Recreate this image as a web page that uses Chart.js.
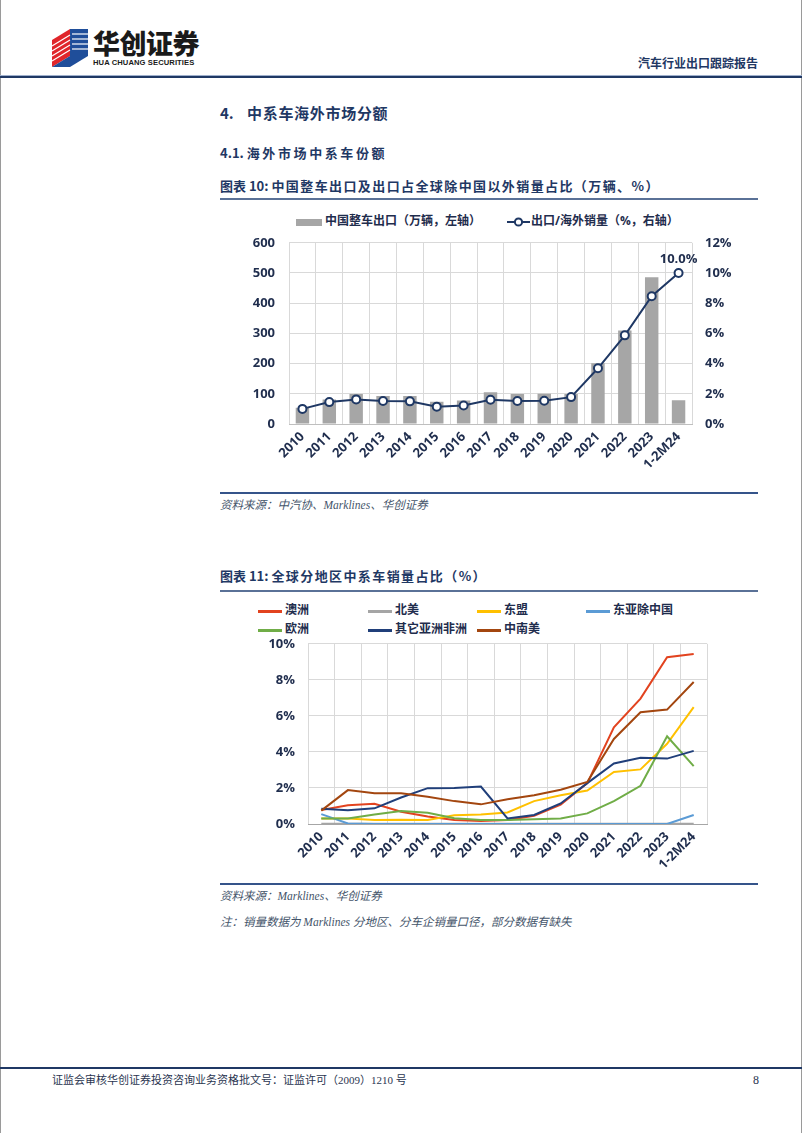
<!DOCTYPE html>
<html><head><meta charset="utf-8">
<script src="https://cdn.jsdelivr.net/npm/chart.js@4.4.1/dist/chart.umd.min.js"></script>
<style>
html,body{margin:0;padding:0;background:#fff;}
body{width:802px;height:1133px;position:relative;overflow:hidden;font-family:"Noto Sans CJK SC",sans-serif;}
.abs{position:absolute;white-space:nowrap;line-height:1;}
.navy{color:#1F3864;}
.hl{position:absolute;left:220px;width:538px;}
.src{position:absolute;left:220px;font-size:11.5px;font-style:italic;color:#44546A;white-space:nowrap;line-height:1;font-family:"Liberation Serif","Noto Sans CJK SC",serif;}
.lg{position:absolute;font-size:12px;font-weight:700;color:#1F2D4D;white-space:nowrap;line-height:1;font-family:"Open Sans","Noto Sans CJK SC",sans-serif;}
.lgline{position:absolute;width:24px;height:2.5px;}
</style></head><body>
<div class="abs" style="left:0;top:0;width:800px;height:1133px;border-left:1px solid #9a9a9a;border-right:1px solid #9a9a9a;"></div>
<!-- header -->
<svg class="abs" style="left:50px;top:26px" width="42" height="44" viewBox="0 0 42 44">
  <polygon points="2,14 20,3 20,30 2,41" fill="#E0262B"/>
  <polygon points="20,3 38,3 38,30 20,30" fill="#1F4E9A"/>
  <polygon points="2,41 20,30 38,30 20,41" fill="#1F4E9A"/>
  <g stroke="#fff" stroke-width="1.2">
    <line x1="2" y1="20" x2="20" y2="9"/><line x1="2" y1="25" x2="20" y2="14"/><line x1="2" y1="30" x2="20" y2="19"/><line x1="2" y1="35" x2="20" y2="24"/>
    <line x1="22" y1="8" x2="38" y2="8"/><line x1="22" y1="13" x2="38" y2="13"/><line x1="22" y1="18" x2="38" y2="18"/><line x1="22" y1="23" x2="38" y2="23"/>
  </g>
</svg>
<div class="abs" style="left:93px;top:29px;font-size:27px;font-weight:900;color:#1a1a1a;letter-spacing:-0.5px;">华创证券</div>
<div class="abs" style="left:93px;top:59px;font-size:7.6px;font-weight:700;color:#1a1a1a;font-family:'Liberation Sans',sans-serif;letter-spacing:0.1px;">HUA CHUANG SECURITIES</div>
<div class="abs navy" style="left:638px;top:57px;font-size:12px;font-weight:700;">汽车行业出口跟踪报告</div>
<div class="abs" style="left:0;top:75px;width:802px;height:1px;background:#9fb0cc;"></div>
<div class="abs" style="left:0;top:76px;width:802px;height:2px;background:#1F3864;"></div>

<!-- headings -->
<div class="abs navy" style="left:220px;top:105px;font-size:15px;font-weight:700;">4.<span style="position:absolute;left:27px;letter-spacing:0.7px;">中系车海外市场分额</span></div>
<div class="abs navy" style="left:220px;top:146px;font-size:13px;font-weight:700;">4.1. <span style="letter-spacing:2.6px;">海外市场中系车份额</span></div>
<div class="abs navy" style="left:220px;top:179px;font-size:13px;font-weight:700;">图表 10:&nbsp;<span style="letter-spacing:1.4px;">中国整车出口及出口占全球除中国以外销量占比（万辆、%）</span></div>
<div class="hl" style="top:198px;height:1.5px;background:#5a7197;"></div>

<!-- chart 1 legend -->
<div class="abs" style="left:296px;top:219px;width:26px;height:7px;background:#A6A6A6;"></div>
<div class="lg" style="left:325px;top:215px;">中国整车出口（万辆，左轴）</div>
<svg class="abs" style="left:507px;top:216px" width="23" height="12"><line x1="0" y1="6" x2="23" y2="6" stroke="#1F3864" stroke-width="2"/><circle cx="11.5" cy="6" r="3.6" fill="#fff" stroke="#1F3864" stroke-width="2"/></svg>
<div class="lg" style="left:531px;top:215px;">出口/海外销量（%，右轴）</div>

<div class="abs" style="left:220px;top:221px;width:540px;height:269px;"><canvas id="c1" width="540" height="269"></canvas></div>
<div class="hl" style="top:492px;height:2px;background:#35548a;"></div>
<div class="src" style="top:500px;">资料来源：中汽协、Marklines、华创证券</div>

<!-- chart 2 -->
<div class="abs navy" style="left:220px;top:569px;font-size:13px;font-weight:700;">图表 11:&nbsp;<span style="letter-spacing:1.4px;">全球分地区中系车销量占比（%）</span></div>
<div class="hl" style="top:590px;height:1.5px;background:#5a7197;"></div>

<div id="lg2"></div>

<div class="abs" style="left:220px;top:623px;width:540px;height:259px;"><canvas id="c2" width="540" height="259"></canvas></div>
<div class="hl" style="top:883px;height:2px;background:#35548a;"></div>
<div class="src" style="top:891px;">资料来源：Marklines、华创证券</div>
<div class="src" style="top:917px;">注：销量数据为 Marklines 分地区、分车企销量口径，部分数据有缺失</div>

<!-- footer -->
<div class="abs" style="left:0;top:1067px;width:802px;height:2px;background:#1F3864;"></div>
<div class="abs" style="left:52px;top:1075px;font-size:11px;color:#2a3550;font-family:'Liberation Serif','Noto Sans CJK SC',serif;">证监会审核华创证券投资咨询业务资格批文号：证监许可（2009）1210 号</div>
<div class="abs" style="left:753px;top:1074px;font-size:12px;color:#2a3550;font-family:'Liberation Serif',serif;">8</div>

<script>
// ---------- data: chart 1 ----------
const years = ['2010','2011','2012','2013','2014','2015','2016','2017','2018','2019','2020','2021','2022','2023','1-2M24'];
const exportVolume = [54, 81, 99, 93, 93, 74, 78, 105, 99, 100, 99, 201, 310, 486, 79];
const exportShare = [1.0, 1.45, 1.63, 1.52, 1.5, 1.15, 1.23, 1.61, 1.52, 1.54, 1.78, 3.69, 5.87, 8.46, 10.0];
const leftTicks = [0, 100, 200, 300, 400, 500, 600];
const rightTicks = [0, 2, 4, 6, 8, 10, 12];
const legend1 = ['中国整车出口（万辆，左轴）', '出口/海外销量（%，右轴）'];

// ---------- data: chart 2 ----------
const regionNames = ['澳洲', '北美', '东盟', '东亚除中国', '欧洲', '其它亚洲非洲', '中南美'];
const australia = [0.78, 1.04, 1.12, 0.68, 0.42, 0.22, 0.16, 0.22, 0.46, 1.08, 2.27, 5.37, 6.96, 9.26, 9.44];
const northAmerica = [0.02, 0.02, 0.02, 0.02, 0.02, 0.02, 0.02, 0.02, 0.02, 0.02, 0.02, 0.02, 0.02, 0.02, 0.02];
const asean = [0.3, 0.3, 0.22, 0.24, 0.22, 0.48, 0.53, 0.64, 1.27, 1.6, 1.86, 2.89, 3.03, 4.45, 6.49];
const eastAsiaExChina = [0.55, 0.03, 0, 0, 0, 0, 0, 0, 0, 0, 0, 0, 0, 0, 0.5];
const europe = [0.31, 0.31, 0.53, 0.72, 0.62, 0.32, 0.22, 0.22, 0.26, 0.3, 0.59, 1.27, 2.12, 4.87, 3.21];
const otherAsiaAfrica = [0.85, 0.76, 0.87, 1.47, 1.99, 2.0, 2.08, 0.31, 0.5, 1.14, 2.27, 3.36, 3.67, 3.63, 4.06];
const latinAmerica = [0.74, 1.88, 1.7, 1.7, 1.51, 1.27, 1.09, 1.37, 1.6, 1.9, 2.33, 4.72, 6.2, 6.35, 7.88];
const pctTicks2 = [0, 2, 4, 6, 8, 10];

const regionSeries = [australia, northAmerica, asean, eastAsiaExChina, europe, otherAsiaAfrica, latinAmerica];
const regionColors = ['#E2431F', '#A5A5A5', '#FFC000', '#5B9BD5', '#70AD47', '#203F7A', '#A3460F'];

const FONT = "'Open Sans','Noto Sans CJK SC',sans-serif";
const TXT = '#1F2D4D';
const GRID = '#D9D9D9';

// chart 2 legend (HTML, grid layout)
const lgPos = [[258,611],[368,611],[477,611],[586,611],[258,630],[368,630],[477,630]];
const lgBox = document.getElementById('lg2');
regionNames.forEach((n,i)=>{
  const [x,y] = lgPos[i];
  const l = document.createElement('div'); l.className='lgline';
  l.style.left = x+'px'; l.style.top = (y-1)+'px'; l.style.background = regionColors[i];
  lgBox.appendChild(l);
  const t = document.createElement('div'); t.className='lg'; t.textContent = n;
  t.style.left = (x+27)+'px'; t.style.top = (y-7)+'px';
  lgBox.appendChild(t);
});

const lastLabel = {
  id:'lastLabel',
  afterDatasetsDraw(chart){
    const meta = chart.getDatasetMeta(0);
    const i = meta.data.length-1;
    const pt = meta.data[i];
    const c = chart.ctx;
    c.save();
    c.font = 'bold 13px ' + FONT;
    c.fillStyle = TXT;
    c.textAlign = 'center';
    c.textBaseline = 'middle';
    c.fillText(exportShare[i].toFixed(1)+'%', pt.x, pt.y-14);
    c.restore();
  }
};

new Chart(document.getElementById('c1'), {
  data:{
    labels: years,
    datasets:[
      {type:'line', label:legend1[1], data:exportShare, yAxisID:'y1', borderColor:'#1F3864', borderWidth:2,
       pointRadius:4, pointBackgroundColor:'#fff', pointBorderColor:'#1F3864', pointBorderWidth:2, order:0},
      {type:'bar', label:legend1[0], data:exportVolume, yAxisID:'y', backgroundColor:'#A6A6A6',
       barPercentage:0.5, categoryPercentage:1, order:1}
    ]
  },
  options:{
    responsive:false, animation:false,
    layout:{padding:{top:2, left:0, right:0, bottom:0}},
    plugins:{legend:{display:false}, tooltip:{enabled:false}},
    scales:{
      x:{offset:true, grid:{color:GRID, offset:true, drawTicks:false}, border:{color:'#BFBFBF'},
         ticks:{font:{family:FONT, size:13, weight:'bold'}, color:TXT, minRotation:45, maxRotation:45, padding:5},
         afterFit:s=>{s.height=66;}},
      y:{position:'left', min:0, max:600, afterBuildTicks:s=>{s.ticks=leftTicks.map(v=>({value:v}));},
         grid:{color:GRID, drawTicks:false}, border:{display:false},
         ticks:{font:{family:FONT, size:13, weight:'bold'}, color:TXT, padding:14},
         afterFit:s=>{s.width=69;}},
      y1:{position:'right', min:0, max:12, afterBuildTicks:s=>{s.ticks=rightTicks.map(v=>({value:v}));},
         grid:{display:false, drawTicks:false}, border:{display:false},
         ticks:{font:{family:FONT, size:13, weight:'bold'}, color:TXT, padding:13, callback:v=>v+'%'},
         afterFit:s=>{s.width=68;}}
    }
  },
  plugins:[lastLabel]
});

new Chart(document.getElementById('c2'), {
  type:'line',
  data:{
    labels: years,
    datasets: regionNames.map((n,i)=>({
      label:n, data:regionSeries[i], borderColor:regionColors[i], backgroundColor:regionColors[i],
      borderWidth:2, pointRadius:0, tension:0, order:6-i
    }))
  },
  options:{
    responsive:false, animation:false,
    layout:{padding:{top:2, left:0, right:53, bottom:0}},
    plugins:{legend:{display:false}, tooltip:{enabled:false}},
    scales:{
      x:{offset:true, grid:{color:GRID, offset:true, drawTicks:false}, border:{color:'#A6A6A6'},
         ticks:{font:{family:FONT, size:13, weight:'bold'}, color:TXT, minRotation:45, maxRotation:45, padding:5},
         afterFit:s=>{s.height=58;}},
      y:{min:0, max:10, afterBuildTicks:s=>{s.ticks=pctTicks2.map(v=>({value:v}));},
         grid:{color:GRID, drawTicks:false}, border:{display:false},
         ticks:{font:{family:FONT, size:13, weight:'bold'}, color:TXT, padding:13, callback:v=>v+'%'},
         afterFit:s=>{s.width=88;}}
    }
  }
});
</script>
</body></html>
